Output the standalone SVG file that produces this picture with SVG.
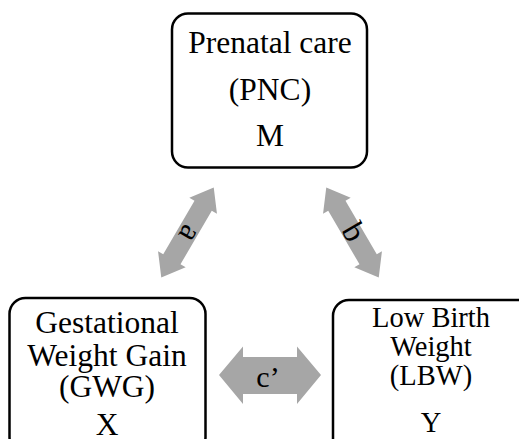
<svg xmlns="http://www.w3.org/2000/svg" width="519" height="439" viewBox="0 0 519 439">
<style>
.box{fill:#fff;stroke:#000;stroke-width:2.5}
.t{font-family:"Liberation Serif","Times New Roman",serif;fill:#000;text-anchor:middle}
.arr{fill:#a6a6a6}
</style>
<rect width="519" height="439" fill="#fff"/>
<g id="connectors">
<g transform="translate(187.5,232.5) rotate(-59.7)">
<polygon class="arr" points="-52,0 -31,-16 -31,-10 31,-10 31,-16 52,0 31,16 31,10 -31,10 -31,16"/>
<text class="t" x="0" y="7" font-size="32" transform="rotate(180)">a</text>
</g>
<g transform="translate(352.5,232.5) rotate(59.7)">
<polygon class="arr" points="-52,0 -31,-16 -31,-10 31,-10 31,-16 52,0 31,16 31,10 -31,10 -31,16"/>
<text class="t" x="0" y="9" font-size="32">b</text>
</g>
<g>
<polygon class="arr" points="219,375 243,346.5 243,357 297,357 297,346.5 321,375 297,404 297,394 243,394 243,404"/>
<text class="t" x="268" y="387" font-size="30">c’</text>
</g>
</g>
<g id="nodeM">
<rect class="box" x="172" y="13.5" width="195" height="154" rx="16"/>
<text class="t" x="270" y="53" font-size="31.5">Prenatal care</text>
<text class="t" x="270" y="100" font-size="31.5">(PNC)</text>
<text class="t" x="270" y="146" font-size="31.5">M</text>
</g>
<g id="nodeX">
<rect class="box" x="9.5" y="298" width="196" height="155" rx="16"/>
<text class="t" x="107" y="333" font-size="31.5">Gestational</text>
<text class="t" x="107" y="366" font-size="31.5">Weight Gain</text>
<text class="t" x="107" y="397" font-size="31.5">(GWG)</text>
<text class="t" x="107" y="435" font-size="31.5">X</text>
</g>
<g id="nodeY">
<rect class="box" x="333" y="300" width="200" height="155" rx="16"/>
<text class="t" x="431" y="327" font-size="28.5">Low Birth</text>
<text class="t" x="431" y="356" font-size="28.5">Weight</text>
<text class="t" x="431" y="385" font-size="28.5">(LBW)</text>
<text class="t" x="431" y="432" font-size="28.5">Y</text>
</g>
</svg>
